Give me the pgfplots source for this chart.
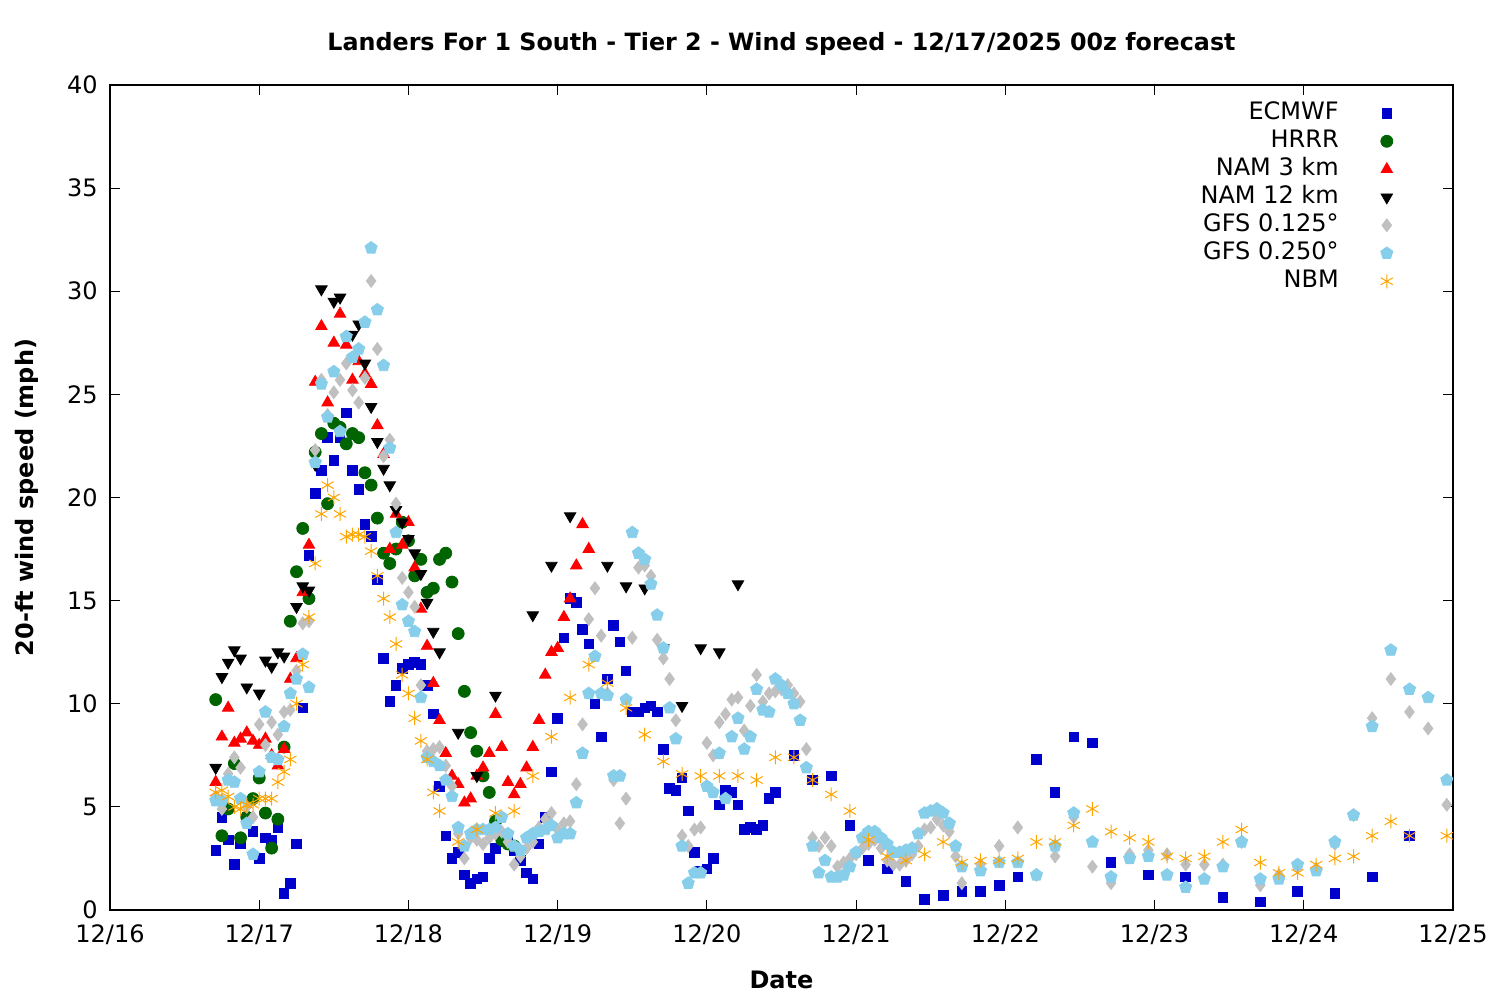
\documentclass[border=0pt]{standalone}
\usepackage{fontspec}
\setmainfont{DejaVu Sans}
\usepackage{pgfplots}
\pgfplotsset{compat=1.18}
\usetikzlibrary{plotmarks}
\definecolor{ecm}{RGB}{0,0,205}
\definecolor{hrrr}{RGB}{0,100,0}
\definecolor{gfsa}{RGB}{192,192,192}
\definecolor{gfsb}{RGB}{135,206,235}
\definecolor{nbm}{RGB}{255,165,0}
\begin{document}
\fontsize{12pt}{14pt}\selectfont
\begin{tikzpicture}
\useasboundingbox (0,0) rectangle (750pt,500pt);
\begin{axis}[
  at={(55pt,45pt)}, anchor=south west,
  scale only axis, width=671.5pt, height=412.5pt,
  xmin=0, xmax=216, ymin=0, ymax=40,
  xtick={0,24,...,216},
  xticklabels={12/16,12/17,12/18,12/19,12/20,12/21,12/22,12/23,12/24,12/25},
  ytick={0,5,...,40},
  tick align=inside, tick pos=both,
  major tick length=5pt,
  axis line style={line width=0.6pt},
  every tick/.style={black, line width=0.6pt},
  /pgf/number format/assume math mode=true,
  ticklabel style={font=\fontsize{12pt}{14pt}\selectfont},
  xticklabel style={yshift=-3pt},
  yticklabel style={xshift=-2pt},
  title={\bfseries Landers For 1 South - Tier 2 - Wind speed - 12/17/2025 00z forecast},
  title style={at={(axis description cs:0.5,1.035)}, anchor=center, font=\fontsize{11.9pt}{14pt}\selectfont},
  xlabel={\bfseries Date},
  xlabel style={at={(axis description cs:0.5,-0.085)}, anchor=center, font=\fontsize{12pt}{14pt}\selectfont},
  ylabel={\bfseries 20-ft wind speed (mph)},
  ylabel style={at={(axis description cs:-0.062,0.5)}, anchor=center, rotate=0, font=\fontsize{12pt}{14pt}\selectfont},
  legend plot pos=right,
  legend cell align=right,
  legend style={at={(axis description cs:0.960,0.988)}, anchor=north east, draw=none, fill=none,
    font=\fontsize{12pt}{14pt}\selectfont,
    nodes={inner sep=0pt, text height=10pt, text depth=4pt},
    /tikz/every odd column/.append style={column sep=21pt}},
  clip=false,
]
% ECMWF
\addplot[only marks, mark=square*, mark size=2.4pt, ecm, mark options={draw=ecm, fill=ecm}] coordinates {
(17,2.9)(18,4.5)(19,3.4)(20,2.2)(21,3.2)(22,4.5)(23,3.8)(24,2.5)(25,3.5)(26,3.4)(27,4.0)(28,0.8)(29,1.3)(30,3.2)
(31,9.8)(32,17.2)(33,20.2)(34,21.3)(35,22.9)(36,21.8)(37,22.9)(38,24.1)(39,21.3)(40,20.4)(41,18.7)(42,18.1)(43,16.0)
(44,12.2)(45,10.1)(46,10.9)(47,11.7)(48,11.9)(49,12.0)(50,11.9)(51,10.9)(52,9.5)(53,6.0)(54,3.6)(55,2.5)(56,2.8)
(57,1.7)(58,1.3)(59,1.5)(60,1.6)(61,2.5)(62,3.0)(63,3.3)(64,3.5)(65,2.9)(66,2.4)(67,1.8)(68,1.5)(69,3.2)(70,4.5)
(71,6.7)(72,9.3)(73,13.2)(74,15.1)(75,14.9)(76,13.6)(77,12.9)(78,10.0)(79,8.4)(80,11.2)(81,13.8)(82,13.0)(83,11.6)
(84,9.6)(85,9.6)(86,9.8)(87,9.9)(88,9.6)(89,7.8)(90,5.9)(91,5.8)(92,6.4)(93,4.8)(94,2.8)(95,1.9)(96,2.0)(97,2.5)
(98,5.1)(99,5.8)(100,5.7)(101,5.1)(102,3.9)(103,4.0)(104,3.9)(105,4.1)(106,5.4)(107,5.7)(110,7.5)(113,6.3)(116,6.5)
(119,4.1)(122,2.4)(125,2.0)(128,1.4)(131,0.5)(134,0.7)(137,0.9)(140,0.9)(143,1.2)(146,1.6)(149,7.3)(152,5.7)(155,8.4)
(158,8.1)(161,2.3)(167,1.7)(173,1.6)(179,0.6)(185,0.4)(191,0.9)(197,0.8)(203,1.6)(209,3.6)
};
\addlegendentry{ECMWF}
% HRRR
\addplot[only marks, mark=*, mark size=3pt, hrrr, mark options={draw=hrrr, fill=hrrr}] coordinates {
(17,10.2)(18,3.6)(19,4.9)(20,7.1)(21,3.5)(22,4.5)(23,5.4)(24,6.4)(25,4.7)(26,3.0)(27,4.4)(28,7.9)(29,14.0)(30,16.4)
(31,18.5)(32,15.1)(33,22.2)(34,23.1)(35,19.7)(36,23.6)(37,23.4)(38,22.6)(39,23.1)(40,22.9)(41,21.2)(42,20.6)(43,19.0)
(44,17.3)(45,16.8)(46,17.5)(47,18.8)(48,17.9)(49,16.2)(50,17.0)(51,15.4)(52,15.6)(53,17.0)(54,17.3)(55,15.9)(56,13.4)
(57,10.6)(58,8.6)(59,7.7)(60,6.5)(61,5.7)(62,4.3)(63,3.4)(64,3.2)(65,3.1)
};
\addlegendentry{HRRR}
% NAM 3 km
\addplot[only marks, mark=triangle*, mark size=3.3pt, red, mark options={draw=red, fill=red}] coordinates {
(17,6.2)(18,8.4)(19,9.8)(20,8.1)(21,8.3)(22,8.6)(23,8.2)(24,8.0)(25,8.3)(26,7.5)(27,7.0)(28,7.8)(29,11.2)(30,12.2)
(31,15.4)(32,17.7)(33,25.6)(34,28.3)(35,24.6)(36,27.5)(37,28.9)(38,27.4)(39,25.7)(40,26.6)(41,26.0)(42,25.5)(43,23.5)
(44,22.1)(45,17.5)(46,19.2)(47,17.7)(48,18.8)(49,16.6)(50,14.6)(51,12.8)(52,11.0)(53,9.2)(54,7.6)(55,6.5)(56,6.1)
(57,5.2)(58,5.4)(59,6.5)(60,6.9)(61,7.6)(62,9.5)(63,7.9)(64,6.2)(65,5.6)(66,6.1)(67,6.9)(68,7.9)(69,9.2)(70,11.4)
(71,12.5)(72,12.7)(73,14.2)(74,15.1)(75,16.7)(76,18.7)(77,17.5)
};
\addlegendentry{NAM 3 km}
% NAM 12 km
\addplot[only marks, mark=triangle*, mark size=3.3pt, black, mark options={draw=black, fill=black, rotate=180}] coordinates {
(17,6.9)(18,11.3)(19,12.0)(20,12.6)(21,12.2)(22,10.8)(24,10.5)(25,12.1)(26,11.8)(27,12.5)(28,12.3)(30,14.7)(31,15.7)
(32,15.5)(33,21.6)(34,30.1)(36,29.5)(37,29.7)(39,27.9)(40,28.4)(41,26.5)(42,24.4)(43,22.7)(44,21.4)(45,20.6)(46,19.4)
(47,18.8)(48,18.0)(49,17.3)(50,16.3)(51,14.9)(52,13.5)(53,12.5)(56,8.6)(59,6.5)(62,10.4)(68,14.3)(71,16.7)(74,19.1)
(80,16.7)(83,15.7)(86,15.6)(89,12.7)(92,9.9)(95,12.7)(98,12.5)(101,15.8)
};
\addlegendentry{NAM 12 km}
% GFS 0.125
\addplot[only marks, mark=diamond*, mark size=3.2pt, gfsa, mark options={draw=gfsa, fill=gfsa}] coordinates {
(17,5.5)(18,4.9)(19,6.6)(20,7.4)(21,6.9)(22,5.0)(23,4.5)(24,9.0)(25,8.0)(26,9.1)(27,8.5)(28,9.6)(29,9.7)(30,11.6)
(31,13.9)(32,14.0)(33,22.3)(34,25.7)(35,24.0)(36,25.1)(37,25.7)(38,26.5)(39,25.2)(40,24.6)(41,25.8)(42,30.5)(43,27.2)
(44,22.0)(45,22.8)(46,19.7)(47,16.1)(48,15.4)(49,14.7)(50,10.9)(51,7.7)(52,7.8)(53,7.9)(54,7.0)(55,6.0)(56,3.7)
(57,2.5)(58,3.5)(59,3.4)(60,3.2)(61,3.5)(62,3.7)(63,3.8)(64,3.3)(65,2.2)(66,2.6)(67,3.0)(68,3.3)(69,4.0)(70,4.4)
(71,4.7)(72,3.9)(73,4.2)(74,4.3)(75,6.1)(76,9.0)(77,14.1)(78,15.6)(79,13.3)(80,10.5)(81,6.3)(82,4.2)(83,5.4)(84,13.2)
(85,16.6)(86,16.7)(87,16.2)(88,13.1)(89,12.2)(90,11.2)(91,9.2)(92,3.6)(93,3.1)(94,3.9)(95,4.0)(96,8.1)(97,7.5)(98,9.1)
(99,9.5)(100,10.2)(101,10.3)(102,8.7)(103,9.9)(104,11.4)(105,10.1)(106,10.5)(107,10.6)(108,10.7)(109,10.9)(110,10.5)
(111,10.1)(112,7.8)(113,3.5)(114,3.1)(115,3.5)(116,3.1)(117,2.1)(118,2.3)(119,2.5)(120,2.7)(121,3.0)(122,3.2)(123,3.4)
(124,3.0)(125,2.4)(126,2.2)(127,2.2)(128,2.4)(129,2.7)(130,3.1)(131,3.9)(132,4.0)(133,4.4)(134,4.1)(135,3.8)(136,2.6)
(137,1.3)(140,2.2)(143,3.1)(146,4.0)(149,1.7)(152,2.6)(155,4.5)(158,2.1)(161,1.3)(164,2.7)(167,2.9)(170,2.7)(173,2.2)
(176,2.2)(179,2.2)(182,3.3)(185,1.2)(188,1.7)(191,2.1)(194,2.0)(197,3.2)(200,4.6)(203,9.3)(206,11.2)(209,9.6)(212,8.8)
(215,5.1)
};
\addlegendentry{GFS 0.125°}
% GFS 0.250
\addplot[only marks, mark=pentagon*, mark size=3.2pt, gfsb, mark options={draw=gfsb, fill=gfsb}] coordinates {
(17,5.3)(18,5.3)(19,6.3)(20,6.2)(21,5.4)(22,4.2)(23,2.7)(24,6.7)(25,9.6)(26,7.4)(27,7.3)(28,8.9)(29,10.5)(30,11.2)
(31,12.4)(32,10.8)(33,21.7)(34,25.5)(35,23.9)(36,26.1)(37,23.2)(38,27.8)(39,26.8)(40,27.2)(41,28.5)(42,32.1)(43,29.1)
(44,26.4)(45,22.4)(46,18.3)(47,14.8)(48,14.0)(49,13.5)(50,10.3)(51,7.4)(52,7.2)(53,7.0)(54,6.3)(55,5.5)(56,4.0)
(57,3.1)(58,3.7)(59,3.9)(60,3.9)(61,3.9)(62,4.0)(63,4.5)(64,3.7)(65,3.1)(66,2.9)(67,3.5)(68,3.7)(69,3.8)(70,3.9)
(71,4.1)(72,3.5)(73,3.7)(74,3.7)(75,5.2)(76,7.6)(77,10.5)(78,12.3)(79,10.5)(80,10.4)(81,6.5)(82,6.5)(83,10.2)(84,18.3)
(85,17.3)(86,17.0)(87,15.8)(88,14.3)(89,12.7)(90,9.8)(91,8.3)(92,3.1)(93,1.3)(94,1.8)(95,1.8)(96,6.0)(97,5.7)(98,7.6)
(99,5.4)(100,8.4)(101,9.3)(102,7.8)(103,8.4)(104,10.7)(105,9.7)(106,9.6)(107,11.2)(108,10.9)(109,10.5)(110,10.0)
(111,9.2)(112,6.9)(113,3.1)(114,1.8)(115,2.4)(116,1.6)(117,1.6)(118,1.7)(119,2.1)(120,2.8)(121,3.5)(122,3.8)(123,3.8)
(124,3.5)(125,3.2)(126,2.8)(127,2.8)(128,2.9)(129,3.0)(130,3.7)(131,4.7)(132,4.8)(133,4.9)(134,4.7)(135,4.2)(136,3.1)
(137,2.1)(140,1.9)(143,2.3)(146,2.3)(149,1.7)(152,3.1)(155,4.7)(158,3.3)(161,1.6)(164,2.5)(167,2.6)(170,1.7)(173,1.1)
(176,1.5)(179,2.1)(182,3.3)(185,1.5)(188,1.5)(191,2.2)(194,1.9)(197,3.3)(200,4.6)(203,8.9)(206,12.6)(209,10.7)(212,10.3)
(215,6.3)
};
\addlegendentry{GFS 0.250°}
% NBM
\addplot[only marks, mark=asterisk, mark size=3.5pt, nbm, mark options={draw=nbm, line width=0.5pt}] coordinates {
(17,5.7)(18,5.8)(19,5.5)(20,5.0)(21,4.9)(22,5.1)(23,5.1)(24,5.4)(25,5.4)(26,5.4)(27,6.2)(28,6.7)(29,7.3)(30,10.0)
(31,11.9)(32,14.2)(33,16.8)(34,19.2)(35,20.6)(36,20.0)(37,19.2)(38,18.1)(39,18.2)(40,18.2)(41,18.1)(42,17.4)(43,16.2)
(44,15.1)(45,14.2)(46,12.9)(47,11.4)(48,10.5)(49,9.3)(50,8.2)(51,7.3)(52,5.7)(53,4.8)(56,3.3)(59,3.9)(62,4.7)(65,4.8)
(68,6.5)(71,8.4)(74,10.3)(77,11.9)(80,11.0)(83,9.8)(86,8.5)(89,7.2)(92,6.6)(95,6.5)(98,6.5)(101,6.5)(104,6.3)(107,7.4)
(110,7.4)(113,6.3)(116,5.6)(119,4.8)(122,3.4)(125,2.6)(128,2.4)(131,2.7)(134,3.3)(137,2.3)(140,2.4)(143,2.4)(146,2.5)
(149,3.3)(152,3.3)(155,4.1)(158,4.9)(161,3.8)(164,3.5)(167,3.3)(170,2.6)(173,2.5)(176,2.6)(179,3.3)(182,3.9)(185,2.3)
(188,1.8)(191,1.8)(194,2.2)(197,2.5)(200,2.6)(203,3.6)(206,4.3)(209,3.6)(215,3.6)
};
\addlegendentry{NBM}
\end{axis}
\end{tikzpicture}
\end{document}
